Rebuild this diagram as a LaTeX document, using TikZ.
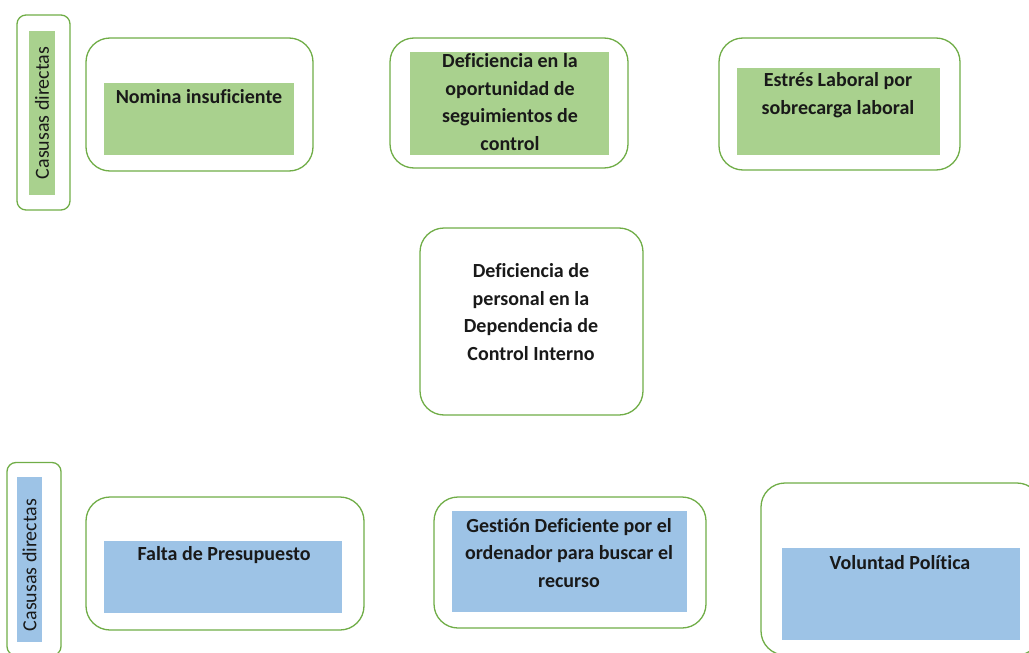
\documentclass[tikz,border=0pt]{standalone}
\usepackage{fontspec}
\setmainfont[Ligatures=NoCommon]{Carlito}
\definecolor{borde}{HTML}{70AD47}
\definecolor{verde}{HTML}{A9D18E}
\definecolor{azul}{HTML}{9DC3E6}
\tikzset{
  caja/.style={draw=borde, line width=1.3pt, rounded corners=24pt, fill=white},
  marco/.style={draw=borde, line width=1.3pt, rounded corners=9pt},
  relleno/.style={inner sep=0pt},
  texto/.style={align=center, inner sep=0pt, text=black!90, font=\fontsize{20}{27.5}\selectfont\bfseries},
  lado/.style={rotate=90, inner sep=0pt, text=black!90, font=\fontsize{20}{24}\selectfont},
}
\begin{document}
\begin{tikzpicture}[x=1pt,y=-1pt]
\useasboundingbox (0,0) rectangle (1029,653);

% causas directas (arriba)
\node [marco, minimum width=53pt, minimum height=195pt] (ma) at (43.5,112.5) {};
\node [relleno, fill=verde, minimum width=26pt, minimum height=164pt] (ga) at (42,113) {};
\node [lado] (la) at (42,113) {Casusas directas};

\node [caja, minimum width=227pt, minimum height=133pt] (o1) at (199.5,104.5) {};
\node [relleno, fill=verde, minimum width=190pt, minimum height=72pt] (g1) at (199,119) {};
\node [texto] (t1) at (199,97) {Nomina insuficiente};

\node [caja, minimum width=238pt, minimum height=130pt] (o2) at (509,103) {};
\node [relleno, fill=verde, minimum width=199pt, minimum height=103pt] (g2) at (509.5,103.5) {};
\node [texto] (t2) at (510,102) {Deficiencia en la\\oportunidad de\\seguimientos de\\control};

\node [caja, minimum width=241pt, minimum height=132pt] (o3) at (839.5,104) {};
\node [relleno, fill=verde, minimum width=203pt, minimum height=87pt] (g3) at (838.5,111.5) {};
\node [texto] (t3) at (838,95) {Estrés Laboral por\\sobrecarga laboral};

% problema central
\node [caja, minimum width=223pt, minimum height=187pt] (c) at (531.5,321.5) {};
\node [texto] (tc) at (531,312) {Deficiencia de\\personal en la\\Dependencia de\\Control Interno};

% causas directas (abajo)
\node [marco, minimum width=54pt, minimum height=193pt] (mb) at (34,559) {};
\node [relleno, fill=azul, minimum width=25pt, minimum height=165pt] (gb) at (29.5,559.5) {};
\node [lado] (lb) at (29.5,565) {Casusas directas};

\node [caja, minimum width=278pt, minimum height=133pt] (p1) at (225,563.5) {};
\node [relleno, fill=azul, minimum width=238pt, minimum height=72pt] (b1) at (223,577) {};
\node [texto] (s1) at (224,555) {Falta de Presupuesto};

\node [caja, minimum width=272pt, minimum height=131pt] (p2) at (570,562.5) {};
\node [relleno, fill=azul, minimum width=235pt, minimum height=101pt] (b2) at (569.5,561.5) {};
\node [texto] (s2) at (569,553) {Gestión Deficiente por el\\ordenador para buscar el\\recurso};

\node [caja, minimum width=280pt, minimum height=172pt] (p3) at (901,569) {};
\node [relleno, fill=azul, minimum width=238pt, minimum height=92pt] (b3) at (901,594) {};
\node [texto] (s3) at (900,563) {Voluntad Política};
\end{tikzpicture}
\end{document}
